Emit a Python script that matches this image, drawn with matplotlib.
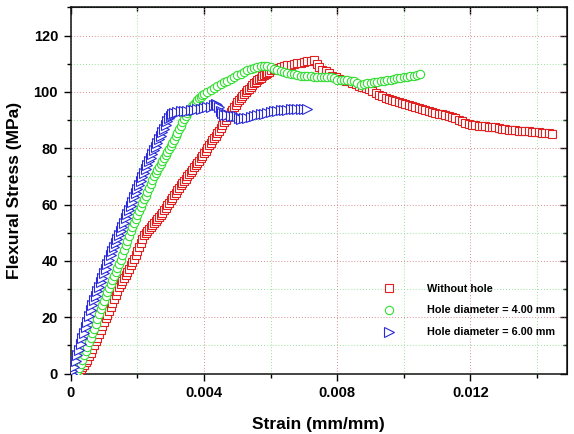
import numpy as np
import matplotlib
matplotlib.use("Agg")
import matplotlib.pyplot as plt
from matplotlib.ticker import MultipleLocator, FixedLocator

plt.rcParams['font.family'] = ['Liberation Sans', 'DejaVu Sans']
plt.rcParams['font.weight'] = 'bold'

# ---- data (strain in 1e-3 mm/mm, stress in MPa) ----
strain_red = [
    0.22, 0.25, 0.30, 0.35, 0.40, 0.45, 0.50, 0.55, 0.60, 0.65,
    0.70, 0.75, 0.80, 0.85, 0.90, 0.95, 1.00, 1.05, 1.10, 1.15,
    1.20, 1.25, 1.30, 1.35, 1.40, 1.45, 1.50, 1.55, 1.60, 1.65,
    1.70, 1.75, 1.80, 1.85, 1.90, 1.95, 2.00, 2.05, 2.10, 2.15,
    2.20, 2.25, 2.30, 2.35, 2.40, 2.45, 2.50, 2.55, 2.60, 2.65,
    2.70, 2.75, 2.80, 2.85, 2.90, 2.95, 3.00, 3.05, 3.10, 3.15,
    3.20, 3.25, 3.30, 3.35, 3.40, 3.45, 3.50, 3.55, 3.60, 3.65,
    3.70, 3.75, 3.80, 3.85, 3.90, 3.95, 4.00, 4.05, 4.10, 4.15,
    4.20, 4.25, 4.30, 4.35, 4.40, 4.45, 4.50, 4.55, 4.60, 4.65,
    4.70, 4.75, 4.80, 4.85, 4.90, 4.95, 5.00, 5.05, 5.10, 5.15,
    5.20, 5.25, 5.30, 5.35, 5.40, 5.45, 5.50, 5.55, 5.60, 5.65,
    5.70, 5.75, 5.80, 5.85, 5.90, 5.95, 6.00, 6.10, 6.20, 6.30,
    6.40, 6.50, 6.60, 6.70, 6.80, 6.90, 7.00, 7.10, 7.20, 7.30,
    7.38, 7.45, 7.55, 7.65, 7.75, 7.85, 7.95, 8.05,
    8.15, 8.25, 8.35, 8.45, 8.55, 8.65, 8.75, 8.85, 8.95, 9.05,
    9.15, 9.25, 9.35, 9.45, 9.55, 9.65, 9.75, 9.85, 9.95, 10.05,
    10.15, 10.25, 10.35, 10.45, 10.55, 10.65, 10.75, 10.85, 10.95, 11.05,
    11.15, 11.25, 11.35, 11.45, 11.55, 11.65, 11.75, 11.85, 11.95, 12.05,
    12.15, 12.25, 12.35, 12.45, 12.55, 12.65, 12.75, 12.85, 12.95, 13.05,
    13.15, 13.25, 13.35, 13.45, 13.55, 13.65, 13.75, 13.85, 13.95, 14.05,
    14.15, 14.25, 14.35, 14.45,
]
stress_red = [
    0, 0.7, 1.5, 2.3, 3.2, 4.1, 5.0, 6.2, 7.5, 8.8,
    10.2, 11.5, 12.8, 14.1, 15.5, 16.8, 18.2, 19.6, 21.0, 22.4,
    23.8, 25.2, 26.6, 28.0, 29.4, 30.6, 31.8, 32.9, 34.0, 35.1,
    36.2, 37.3, 38.4, 39.6, 40.8, 42.1, 43.5, 45.0, 46.5, 47.9,
    49.2, 50.0, 50.8, 51.5, 52.2, 52.9, 53.6, 54.3, 55.0, 55.7,
    56.4, 57.2, 58.0, 58.9, 59.8, 60.7, 61.6, 62.5, 63.4, 64.2,
    65.1, 65.9, 66.8, 67.6, 68.4, 69.2, 70.0, 70.8, 71.6, 72.4,
    73.2, 74.0, 74.8, 75.6, 76.5, 77.3, 78.2, 79.1, 80.0, 81.0,
    81.9, 82.8, 83.7, 84.5, 85.4, 86.3, 87.2, 88.2, 89.2, 90.1,
    91.1, 91.9, 92.8, 93.7, 94.6, 95.4, 96.3, 97.0, 97.8, 98.6,
    99.4, 100.0, 100.6, 101.2, 101.8, 102.4, 103.0, 103.5, 104.1, 104.5,
    105.0, 105.5, 106.0, 106.4, 106.8, 107.2, 107.6, 108.2, 108.6, 109.0,
    109.3, 109.5, 109.7, 109.9, 110.1, 110.3, 110.5, 110.8, 111.0, 111.2,
    110.0, 109.0, 107.8, 107.3, 106.6, 105.8, 105.2, 104.7,
    104.3, 104.0, 103.7, 103.3, 102.7, 102.2, 101.7, 101.3, 100.9, 100.2,
    99.5, 98.9, 98.4, 98.0, 97.6, 97.2, 96.8, 96.5, 96.2, 95.8,
    95.4, 95.1, 94.8, 94.4, 94.0, 93.6, 93.2, 92.9, 92.6, 92.3,
    92.0, 91.7, 91.4, 91.2, 90.8, 90.2, 89.6, 89.1, 88.7, 88.4,
    88.2, 88.0, 87.9, 87.8, 87.7, 87.6, 87.4, 87.2, 87.0, 86.8,
    86.6, 86.5, 86.4, 86.3, 86.2, 86.1, 86.0, 85.9, 85.8, 85.6,
    85.5, 85.4, 85.3, 85.2,
]

strain_green = [
    0.17, 0.20, 0.25, 0.30, 0.35, 0.40, 0.45, 0.50, 0.55, 0.60,
    0.65, 0.70, 0.75, 0.80, 0.85, 0.90, 0.95, 1.00, 1.05, 1.10,
    1.15, 1.20, 1.25, 1.30, 1.35, 1.40, 1.45, 1.50, 1.55, 1.60,
    1.65, 1.70, 1.75, 1.80, 1.85, 1.90, 1.95, 2.00, 2.05, 2.10,
    2.15, 2.20, 2.25, 2.30, 2.35, 2.40, 2.45, 2.50, 2.55, 2.60,
    2.65, 2.70, 2.75, 2.80, 2.85, 2.90, 2.95, 3.00, 3.05, 3.10,
    3.15, 3.20, 3.25, 3.30, 3.35, 3.40, 3.45, 3.50, 3.55, 3.60,
    3.65, 3.70, 3.75, 3.80, 3.85, 3.90, 3.95, 4.00, 4.10, 4.20,
    4.30, 4.40, 4.50, 4.60, 4.70, 4.80, 4.90, 5.00, 5.10, 5.20,
    5.30, 5.40, 5.50, 5.60, 5.70, 5.80, 5.90, 6.00, 6.10, 6.20,
    6.30, 6.40, 6.50, 6.60, 6.70, 6.80, 6.90, 7.00, 7.10, 7.20,
    7.30, 7.40, 7.50, 7.60, 7.70, 7.80, 7.90, 8.00, 8.10, 8.20,
    8.30, 8.40, 8.50, 8.60, 8.70, 8.80, 8.90, 9.00, 9.10, 9.20,
    9.30, 9.40, 9.50, 9.60, 9.70, 9.80, 9.90, 10.00, 10.10, 10.20,
    10.30, 10.40, 10.50,
]
stress_green = [
    0, 0.8, 2.1, 3.5, 5.0, 6.5, 8.0, 9.6, 11.2, 12.8,
    14.4, 16.0, 17.7, 19.5, 21.1, 22.8, 24.3, 25.8, 27.4, 29.0,
    30.5, 32.0, 33.4, 34.8, 36.2, 37.6, 39.0, 40.4, 42.1, 43.8,
    45.5, 47.2, 48.9, 50.6, 52.0, 53.5, 55.0, 56.4, 57.8, 59.2,
    60.5, 61.9, 63.2, 64.6, 66.0, 67.3, 68.6, 70.0, 71.1, 72.2,
    73.3, 74.4, 75.4, 76.5, 77.5, 78.6, 79.7, 80.8, 81.9, 83.0,
    84.2, 85.4, 86.7, 88.0, 89.3, 90.5, 91.5, 92.5, 93.4, 94.3,
    95.1, 95.8, 96.5, 97.2, 97.8, 98.3, 98.8, 99.3, 100.1, 100.8,
    101.4, 102.0, 102.7, 103.4, 104.0, 104.6, 105.2, 105.9, 106.5, 107.1,
    107.7, 108.2, 108.6, 108.9, 109.2, 109.3, 109.1, 108.8, 108.3, 107.8,
    107.3, 107.0, 106.7, 106.4, 106.2, 106.0, 105.8, 105.7, 105.6, 105.5,
    105.4, 105.3, 105.3, 105.3, 105.3, 105.2, 104.9, 104.4, 104.2, 104.1,
    104.1, 104.0, 103.7, 103.0, 102.6, 102.7, 103.0, 103.2, 103.4, 103.6,
    103.8, 104.0, 104.2, 104.4, 104.6, 104.8, 105.0, 105.2, 105.4, 105.6,
    105.8, 106.0, 106.3,
]

strain_blue = [
    0.03, 0.05, 0.10, 0.15, 0.20, 0.25, 0.30, 0.35, 0.40, 0.45,
    0.50, 0.55, 0.60, 0.65, 0.70, 0.75, 0.80, 0.85, 0.90, 0.95,
    1.00, 1.05, 1.10, 1.15, 1.20, 1.25, 1.30, 1.35, 1.40, 1.45,
    1.50, 1.55, 1.60, 1.65, 1.70, 1.75, 1.80, 1.85, 1.90, 1.95,
    2.00, 2.05, 2.10, 2.15, 2.20, 2.25, 2.30, 2.35, 2.40, 2.45,
    2.50, 2.55, 2.60, 2.65, 2.70, 2.75, 2.80, 2.85, 2.90, 2.95,
    3.00, 3.05, 3.10, 3.20, 3.30, 3.40, 3.50, 3.60, 3.70, 3.80,
    3.90, 4.00, 4.10, 4.20, 4.30, 4.35, 4.40, 4.45, 4.50, 4.55,
    4.60, 4.70, 4.80, 4.90, 5.00, 5.05, 5.10, 5.20, 5.30, 5.40,
    5.50, 5.60, 5.70, 5.80, 5.90, 6.00, 6.10, 6.20, 6.30, 6.40,
    6.50, 6.60, 6.70, 6.80, 6.90, 7.00, 7.10,
]
stress_blue = [
    0, 0.8, 2.5, 4.5, 6.5, 8.5, 10.5, 12.5, 14.5, 16.5,
    18.5, 20.5, 22.5, 24.2, 26.0, 27.6, 29.2, 30.8, 32.4, 34.0,
    35.6, 37.2, 38.8, 40.4, 42.0, 43.5, 45.0, 46.4, 47.8, 49.2,
    50.6, 52.1, 53.6, 55.1, 56.6, 58.1, 59.6, 61.1, 62.6, 64.0,
    65.5, 67.0, 68.4, 69.8, 71.2, 72.6, 74.0, 75.4, 76.7, 78.0,
    79.3, 80.6, 81.9, 83.2, 84.5, 85.8, 87.0, 88.3, 89.6, 90.7,
    91.6, 92.1, 92.4, 92.8, 93.1, 93.3, 93.4, 93.5, 93.7, 93.9,
    94.1, 94.3, 94.5, 94.8, 95.4, 95.8, 95.3, 94.5, 93.4, 92.4,
    91.9, 91.7, 91.6, 91.6, 91.4, 90.6, 90.4, 90.6, 90.9, 91.1,
    91.4, 91.7, 92.0, 92.3, 92.6, 92.9, 93.1, 93.3, 93.5, 93.6,
    93.7, 93.8, 93.9, 94.0, 94.0, 94.1, 94.1,
]

labels = ["Without hole", "Hole diameter = 4.00 mm", "Hole diameter = 6.00 mm"]
x_tick_labels = ["0", "0.004", "0.008", "0.012"]

# ---- figure ----
fig = plt.figure(figsize=(5.74, 4.34), dpi=100)
ax = fig.add_axes([0.123, 0.139, 0.865, 0.844])

red = '#e02020'
green = '#33dd33'
blue = '#2a2ad8'
ms = 6.0
mew = 0.8
scale = 1e-3
h1, = ax.plot(np.array(strain_red) * scale, stress_red, ls='none', marker='s', ms=ms,
              mfc='white', mec=red, mew=mew, label=labels[0], zorder=3)
h2, = ax.plot(np.array(strain_green) * scale, stress_green, ls='none', marker='o', ms=ms,
              mfc='white', mec=green, mew=mew, label=labels[1], zorder=4)
h3, = ax.plot(np.array(strain_blue) * scale, stress_blue, ls='none', marker='>', ms=ms + 0.5,
              mfc='white', mec=blue, mew=mew, label=labels[2], zorder=5)

ax.set_xlim(0, 0.0149)
ax.set_ylim(0, 130)

xmaj = [0, 0.004, 0.008, 0.012]
xmin = [0.002, 0.006, 0.010, 0.014]
ax.xaxis.set_major_locator(FixedLocator(xmaj))
ax.set_xticklabels(x_tick_labels)
ax.xaxis.set_minor_locator(FixedLocator(xmin))
ax.yaxis.set_major_locator(MultipleLocator(20))
ax.yaxis.set_minor_locator(MultipleLocator(10))

ax.grid(which='major', color='#cc6a6a', linestyle=(0, (1, 2.5)), linewidth=0.6, zorder=0)
ax.grid(which='minor', color='#7ad87a', linestyle=(0, (1, 2.5)), linewidth=0.6, zorder=0)
ax.set_axisbelow(True)

ax.tick_params(which='major', direction='out', length=5, width=1.0, labelsize=10.5, pad=4)
ax.tick_params(which='minor', direction='out', length=3, width=1.0)
for lab in ax.get_xticklabels() + ax.get_yticklabels():
    lab.set_fontweight('bold')

for s in ax.spines.values():
    s.set_linewidth(1.1)
    s.set_color('#111111')

# top/right inward ticks
secx = ax.secondary_xaxis('top')
secx.xaxis.set_major_locator(FixedLocator(xmaj))
secx.xaxis.set_minor_locator(FixedLocator(xmin))
secx.tick_params(which='major', direction='in', length=5, width=1.0, labeltop=False)
secx.tick_params(which='minor', direction='in', length=3, width=1.0)
secy = ax.secondary_yaxis('right')
secy.yaxis.set_major_locator(MultipleLocator(20))
secy.yaxis.set_minor_locator(MultipleLocator(10))
secy.tick_params(which='major', direction='in', length=5, width=1.0, labelright=False)
secy.tick_params(which='minor', direction='in', length=3, width=1.0)

ax.set_xlabel("Strain (mm/mm)", fontsize=12.5, fontweight='bold', labelpad=12)
ax.set_ylabel("Flexural Stress (MPa)", fontsize=12.5, fontweight='bold', labelpad=8)

leg = ax.legend(handles=[h1, h2, h3], loc='upper left', bbox_to_anchor=(0.622, 0.258),
                frameon=False, prop={'size': 7.8, 'weight': 'bold'},
                handlelength=1.0, handletextpad=3.0, labelspacing=1.1, borderaxespad=0)

fig.savefig("out.png", dpi=100)
